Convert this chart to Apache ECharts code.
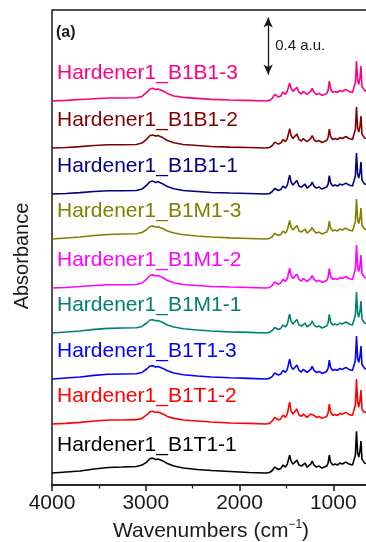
<!DOCTYPE html>
<html>
<head>
<meta charset="utf-8">
<script src="https://cdn.jsdelivr.net/npm/echarts@6/dist/echarts.min.js"></script>
<style>
  html, body { margin: 0; padding: 0; background: #ffffff; }
  #chart { width: 366px; height: 542px; }
</style>
</head>
<body>
<div id="chart"></div>
<script>
// FTIR spectra of hardener samples, stacked with vertical offsets.
const wavenumbers = [
  4000, 3850, 3700, 3550, 3400, 3250, 3100, 3040, 2990, 2955,
  2925, 2895, 2870, 2850, 2815, 2770, 2700, 2600, 2450, 2300,
  2100, 1900, 1720, 1680, 1650, 1625, 1605, 1585, 1560, 1535,
  1510, 1490, 1465, 1450, 1430, 1410, 1388, 1365, 1340, 1320,
  1300, 1280, 1260, 1240, 1225, 1205, 1180, 1150, 1120, 1095,
  1070, 1055, 1042, 1028, 1005, 980, 955, 930, 905, 885,
  865, 850, 832, 812, 795, 778, 764, 752, 740, 728,
  715, 704, 694, 680, 665, 650, 630, 600
];

const seriesNames = [
  'Hardener1_B1T1-1', 'Hardener1_B1T1-2', 'Hardener1_B1T1-3',
  'Hardener1_B1M1-1', 'Hardener1_B1M1-2', 'Hardener1_B1M1-3',
  'Hardener1_B1B1-1', 'Hardener1_B1B1-2', 'Hardener1_B1B1-3'
];

const seriesColors = [
  '#000000', '#ff0000', '#0000ff',
  '#008070', '#ff00ff', '#808000',
  '#000080', '#800000', '#ff0080'
];

// Baseline offset of each stacked trace (a.u.)
const baselineOffsets = [0.084, 0.429, 0.745, 1.068, 1.384, 1.728, 2.044, 2.367, 2.698];

// Absorbance above each trace's own baseline (a.u.)
const absB1T1_1 = [
  0, .007, .014, .028, .039, .042, .046, .056, .077, .102,
  .105, .095, .098, .105, .084, .067, .049, .035, .025, .018,
  .011, .004, 0, .004, .018, .042, .049, .025, .032, .056,
  .042, .063, .126, .084, .063, .077, .091, .056, .049, .063,
  .070, .042, .049, .063, .084, .056, .042, .049, .035, .042,
  .049, .070, .126, .077, .056, .063, .056, .070, .063, .070,
  .077, .084, .063, .077, .056, .070, .126, .294, .140, .112,
  .154, .224, .098, .084, .070, .077, .063, .070
];
const absB1T1_2 = [
  0, .004, .011, .021, .028, .028, .030, .039, .063, .085,
  .089, .080, .084, .089, .070, .053, .039, .028, .021, .014,
  .007, .004, 0, .004, .021, .046, .053, .028, .035, .063,
  .046, .070, .154, .091, .070, .084, .105, .063, .053, .070,
  .077, .046, .056, .070, .084, .060, .046, .053, .039, .046,
  .053, .077, .140, .084, .060, .067, .060, .074, .067, .074,
  .081, .088, .067, .081, .060, .074, .133, .316, .154, .119,
  .165, .238, .105, .088, .074, .081, .067, .074
];
const absB1T1_3 = [
  0, .007, .014, .025, .033, .035, .037, .046, .070, .091,
  .093, .084, .088, .093, .074, .058, .042, .030, .021, .014,
  .008, .004, 0, .004, .018, .042, .049, .028, .035, .060,
  .046, .067, .140, .088, .067, .081, .098, .060, .049, .067,
  .074, .046, .053, .067, .088, .060, .046, .053, .039, .046,
  .053, .074, .133, .081, .060, .067, .060, .074, .067, .074,
  .081, .088, .067, .081, .060, .074, .130, .302, .147, .116,
  .158, .231, .102, .088, .074, .081, .067, .074
];
const absB1M1_1 = [
  0, .007, .014, .025, .032, .035, .037, .046, .070, .091,
  .093, .086, .088, .091, .074, .056, .042, .030, .021, .014,
  .008, .004, 0, .004, .018, .039, .046, .025, .032, .056,
  .042, .063, .133, .084, .063, .077, .095, .056, .049, .063,
  .070, .042, .049, .063, .084, .056, .042, .049, .035, .042,
  .049, .070, .130, .077, .056, .063, .056, .070, .063, .070,
  .077, .084, .063, .077, .056, .070, .126, .288, .140, .112,
  .154, .224, .098, .084, .070, .077, .063, .070
];
const absB1M1_2 = [
  0, .004, .010, .018, .023, .023, .025, .035, .063, .088,
  .093, .084, .088, .093, .072, .053, .037, .025, .018, .011,
  .007, .004, 0, .004, .018, .042, .049, .025, .035, .060,
  .046, .067, .140, .088, .067, .081, .098, .060, .049, .067,
  .074, .046, .053, .067, .088, .060, .046, .053, .039, .046,
  .053, .074, .137, .081, .060, .067, .060, .074, .067, .074,
  .081, .088, .067, .081, .060, .074, .133, .302, .147, .116,
  .158, .231, .102, .088, .074, .081, .067, .074
];
const absB1M1_3 = [
  0, .007, .014, .025, .032, .035, .037, .046, .067, .088,
  .091, .084, .086, .091, .072, .056, .042, .030, .021, .014,
  .008, .004, 0, .004, .016, .039, .046, .025, .032, .056,
  .042, .063, .130, .084, .063, .077, .095, .056, .049, .063,
  .070, .042, .049, .063, .081, .056, .042, .049, .035, .042,
  .049, .070, .126, .077, .056, .063, .056, .070, .063, .070,
  .077, .084, .063, .077, .056, .070, .123, .281, .137, .109,
  .151, .217, .095, .081, .070, .077, .063, .070
];
const absB1B1_1 = [
  0, .004, .010, .018, .023, .023, .025, .035, .063, .086,
  .091, .081, .086, .091, .070, .053, .037, .025, .018, .011,
  .007, .004, 0, .004, .018, .039, .046, .025, .032, .056,
  .042, .063, .133, .084, .063, .077, .095, .056, .049, .063,
  .070, .042, .049, .063, .084, .056, .042, .049, .035, .042,
  .049, .070, .130, .077, .056, .063, .056, .070, .063, .070,
  .077, .084, .063, .077, .056, .070, .126, .288, .140, .112,
  .154, .224, .098, .084, .070, .077, .063, .070
];
const absB1B1_2 = [
  0, .004, .010, .018, .023, .023, .025, .035, .063, .088,
  .091, .084, .088, .091, .072, .053, .037, .025, .018, .011,
  .007, .004, 0, .004, .018, .042, .049, .028, .035, .060,
  .046, .067, .137, .088, .067, .081, .098, .060, .049, .067,
  .074, .046, .053, .067, .088, .060, .046, .053, .039, .046,
  .053, .074, .133, .081, .060, .067, .060, .074, .067, .074,
  .081, .088, .067, .081, .060, .074, .130, .288, .140, .112,
  .154, .224, .098, .084, .070, .077, .063, .070
];
const absB1B1_3 = [
  0, .004, .010, .016, .021, .021, .023, .032, .060, .084,
  .089, .081, .084, .089, .070, .053, .035, .025, .018, .011,
  .007, .004, 0, .004, .018, .046, .053, .028, .035, .063,
  .046, .070, .126, .088, .067, .081, .095, .060, .049, .067,
  .074, .046, .053, .067, .088, .060, .046, .053, .039, .046,
  .053, .074, .140, .084, .060, .067, .060, .074, .067, .074,
  .081, .088, .067, .081, .060, .074, .130, .281, .147, .116,
  .161, .245, .102, .088, .074, .081, .067, .074
];

const absorbanceSets = [
  absB1T1_1, absB1T1_2, absB1T1_3,
  absB1M1_1, absB1M1_2, absB1M1_3,
  absB1B1_1, absB1B1_2, absB1B1_3
];

// Sample-name labels sit this far above each baseline, near the left edge
const labelWavenumber = 3947;
const labelLift = 0.193;

// Vertical scale bar
const scaleBarWavenumber = 1694;
const scaleBarBottom = 2.884;
const scaleBarLength = 0.4;
const scaleBarText = '0.4 a.u.';

const xTicks = [4000, 3000, 2000, 1000];
const FONT = '"Liberation Sans", Arial, Helvetica, sans-serif';
const INK = '#1a1a1a';

const chart = echarts.init(document.getElementById('chart'), null, { renderer: 'canvas' });

const series = seriesNames.map((name, k) => ({
  name: name,
  type: 'line',
  showSymbol: false,
  symbol: 'none',
  smooth: false,
  clip: true,
  animation: false,
  lineStyle: { color: seriesColors[k], width: 1.6 },
  itemStyle: { color: seriesColors[k] },
  data: wavenumbers.map((w, i) => [w, baselineOffsets[k] + absorbanceSets[k][i]]),
  markPoint: {
    silent: true,
    animation: false,
    symbol: 'circle',
    symbolSize: 0,
    data: [{ coord: [labelWavenumber, baselineOffsets[k] + labelLift], value: name }],
    label: {
      show: true,
      position: 'right',
      distance: 0,
      formatter: name,
      color: seriesColors[k],
      fontSize: 21,
      fontFamily: FONT
    }
  }
}));

// Scale bar drawn in data coordinates
series.push({
  name: 'scale',
  type: 'line',
  data: [],
  animation: false,
  markLine: {
    silent: true,
    animation: false,
    symbol: ['arrow', 'arrow'],
    symbolSize: [7, 10],
    lineStyle: { color: INK, width: 1.3, type: 'solid' },
    label: { show: false },
    data: [[
      { coord: [scaleBarWavenumber, scaleBarBottom] },
      { coord: [scaleBarWavenumber, scaleBarBottom + scaleBarLength] }
    ]]
  },
  markPoint: {
    silent: true,
    animation: false,
    symbol: 'circle',
    symbolSize: 0,
    data: [{ coord: [scaleBarWavenumber, scaleBarBottom + scaleBarLength / 2], value: scaleBarText }],
    label: {
      show: true,
      position: 'right',
      distance: 7,
      formatter: scaleBarText,
      color: INK,
      fontSize: 15,
      fontFamily: FONT
    }
  }
});

chart.setOption({
  animation: false,
  backgroundColor: '#ffffff',
  grid: {
    left: 52, top: 10, width: 375, height: 475,
    outerBoundsMode: 'none',
    containLabel: false,
    show: true, borderColor: INK, borderWidth: 1.5, backgroundColor: 'transparent'
  },
  xAxis: {
    type: 'value',
    min: 0, max: 4000, interval: 1000,
    inverse: true,
    axisLine: { show: true, lineStyle: { color: INK, width: 1.5 } },
    axisTick: { show: true, inside: false, length: 6, lineStyle: { color: INK, width: 1.5 } },
    minorTick: { show: true, splitNumber: 2, length: 3.5, lineStyle: { color: INK, width: 1.2 } },
    splitLine: { show: false },
    axisLabel: {
      color: INK, fontSize: 21, fontFamily: FONT, margin: 8,
      formatter: v => (xTicks.indexOf(v) >= 0 ? String(v) : '')
    }
  },
  yAxis: {
    type: 'value',
    min: 0, max: 3.337,
    axisLine: { show: false },
    axisTick: { show: false },
    axisLabel: { show: false },
    splitLine: { show: false }
  },
  graphic: [
    {
      type: 'text', x: 56, y: 33, silent: true,
      style: { text: '(a)', fontSize: 16, fontWeight: 'bold', fontFamily: FONT, fill: INK, align: 'left', verticalAlign: 'middle' }
    },
    {
      type: 'text', x: 22, y: 256, rotation: Math.PI / 2, silent: true,
      style: { text: 'Absorbance', fontSize: 20, fontFamily: FONT, fill: INK, align: 'center', verticalAlign: 'middle' }
    },
    {
      type: 'text', x: 211, y: 531, silent: true,
      style: {
        text: '{a|Wavenumbers (cm}{s|−1}{a|)}',
        align: 'center', verticalAlign: 'middle',
        rich: {
          a: { fontSize: 21, fontFamily: FONT, fill: INK, lineHeight: 24 },
          s: { fontSize: 12, fontFamily: FONT, fill: INK, verticalAlign: 'top', lineHeight: 13 }
        }
      }
    }
  ],
  series: series
});
</script>
</body>
</html>
